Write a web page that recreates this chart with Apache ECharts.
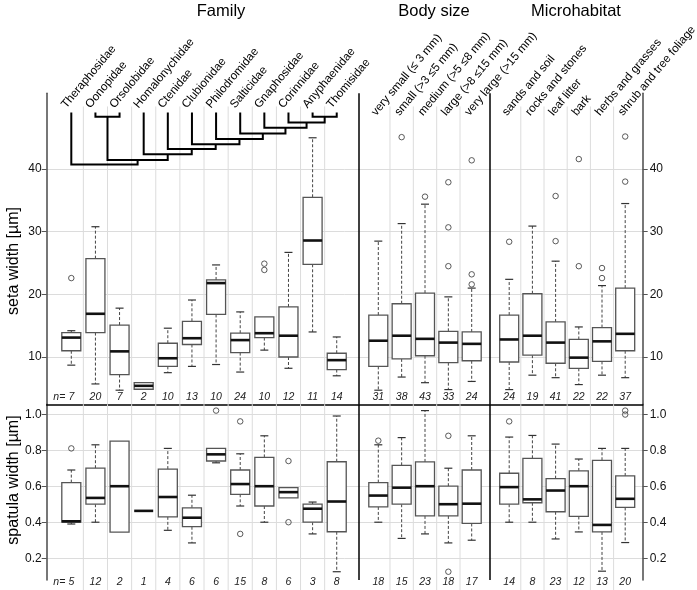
<!DOCTYPE html>
<html><head><meta charset="utf-8">
<script src="https://cdn.jsdelivr.net/npm/echarts@6/dist/echarts.min.js"></script>
<style>html,body{margin:0;padding:0;background:#fff}#c{width:697px;height:590px}</style>
</head><body><div id="c"></div>
<script>
// ---------------- DATA ----------------
const familyNames = ['Theraphosidae','Oonopidae','Orsolobidae','Homalonychidae','Ctenidae','Clubionidae','Philodromidae','Salticidae','Gnaphosidae','Corinnidae','Anyphaenidae','Thomisidae'];
const bodyNames = ['very small (≤ 3 mm)','small (>3 ≤5 mm)','medium (>5 ≤8 mm)','large (>8 ≤15 mm)','very large (>15 mm)'];
const habitatNames = ['sands and soil','rocks and stones','leaf litter','bark','herbs and grasses','shrub and tree foliage'];
const panelTitles = ['Family','Body size','Microhabitat'];

// box stats: [lower whisker, Q1, median, Q3, upper whisker]
const setaFamily = [[8.7,11.0,13.1,13.9,14.2],[5.7,13.9,16.9,25.7,30.8],[4.7,7.2,10.9,15.1,17.8],[4.85,4.85,5.4,5.9,5.9],[7.5,8.5,9.8,12.2,14.6],[8.5,12.0,13.0,15.7,19.1],[8.8,16.8,21.8,22.3,24.7],[7.6,10.7,12.7,13.8,17.2],[11.1,13.1,13.8,16.4,16.4],[8.2,10.0,13.4,18.0,26.7],[14.0,24.8,28.6,35.5,45.0],[7.0,8.0,9.5,10.6,13.2]];
const setaFamilyOut = [[22.6],[],[],[],[],[],[],[],[24.9,23.9],[],[],[]];
const setaFamilyN = [7,20,7,2,10,13,10,24,10,12,11,14];

const setaBody = [[4.7,8.5,12.6,16.7,28.5],[6.8,9.7,13.4,18.5,31.3],[5.9,10.2,12.9,20.2,34.4],[4.8,9.1,12.3,14.1,19.6],[6.1,9.4,12.1,14.0,21.0]];
const setaBodyOut = [[],[45.1],[35.6],[24.5,30.7,37.9],[21.6,23.2,41.4]];
const setaBodyN = [31,38,43,33,24];

const setaHabitat = [[4.8,9.2,12.8,16.7,22.4],[7.1,10.3,13.4,20.1,30.9],[6.7,9.0,12.3,15.6,25.3],[5.6,8.2,9.9,12.8,14.8],[7.1,9.3,12.5,14.7,21.4],[6.7,11.0,13.7,21.0,34.5]];
const setaHabitatOut = [[28.4],[],[28.5,35.7],[24.5,41.6],[22.6,24.2],[38.0,45.2]];
const setaHabitatN = [24,19,41,22,22,37];

const spatulaFamily = [[0.39,0.40,0.405,0.62,0.69],[0.40,0.50,0.535,0.70,0.83],[0.345,0.345,0.60,0.85,0.85],[0.463,0.463,0.463,0.463,0.463],[0.355,0.43,0.54,0.695,0.81],[0.285,0.375,0.425,0.48,0.55],[0.73,0.74,0.777,0.81,0.81],[0.49,0.555,0.612,0.69,0.78],[0.40,0.49,0.60,0.76,0.88],[0.535,0.535,0.567,0.592,0.592],[0.335,0.40,0.475,0.50,0.512],[0.125,0.347,0.515,0.736,0.99]];
const spatulaFamilyOut = [[0.81],[],[],[],[],[],[1.02],[0.96,0.335],[],[0.74,0.40],[],[]];
const spatulaFamilyN = [5,12,2,1,4,6,6,15,8,6,3,8];

const spatulaBody = [[0.40,0.485,0.548,0.62,0.83],[0.31,0.50,0.592,0.716,0.87],[0.335,0.435,0.60,0.735,1.02],[0.285,0.435,0.50,0.60,0.70],[0.30,0.393,0.503,0.69,0.88]];
const spatulaBodyOut = [[0.853],[],[],[0.88,0.125],[]];
const spatulaBodyN = [18,15,23,18,17];

const spatulaHabitat = [[0.40,0.50,0.595,0.672,0.873],[0.40,0.508,0.527,0.755,0.882],[0.307,0.458,0.576,0.642,0.834],[0.346,0.432,0.60,0.685,0.751],[0.128,0.346,0.385,0.744,0.81],[0.287,0.482,0.53,0.657,0.81]];
const spatulaHabitatOut = [[0.96],[],[],[],[],[1.02,0.998]];
const spatulaHabitatN = [14,8,23,12,13,20];

const setaTicks = [10,20,30,40];
const spatulaTicks = [0.2,0.4,0.6,0.8,1.0];

// family dendrogram: [child A, child B, merge height (seta axis units)]; numbers = family index, 'cK' = K-th merge
const dendroLeafTop = 49.05;
const dendroMerges = [[10,11,48.35],[1,2,48.35],[9,'c0',47.45],[8,'c2',46.6],[7,'c3',45.7],[6,'c4',44.8],[5,'c5',43.95],[4,'c6',43.2],[3,'c7',42.35],['c1','c8',41.45],[0,'c9',40.75]];

// ---------------- LAYOUT ----------------
const FONT = "'Liberation Sans', Arial, Helvetica, sans-serif";
const X_MAX = 596;
const groupLayout = [
  {start:24.6, step:24.13, labelDx:-3, labelY:49.35},
  {start:331.6, step:23.35, labelDx:0, labelY:48.15},
  {start:462.5, step:23.2, labelDx:0, labelY:48.15}
];
const separators = [311.6, 442.6];
const titleX = [221, 434, 576];
const BOX_W = 19, CAP_W = 8;
const TOP = {min:2.45, max:52.1, gridTopVal:50, nY:3.62};
const BOT = {min:0.079, max:1.055, nY:0.068};

const groups = [
  {names:familyNames, seta:setaFamily, setaOut:setaFamilyOut, setaN:setaFamilyN, sp:spatulaFamily, spOut:spatulaFamilyOut, spN:spatulaFamilyN},
  {names:bodyNames, seta:setaBody, setaOut:setaBodyOut, setaN:setaBodyN, sp:spatulaBody, spOut:spatulaBodyOut, spN:spatulaBodyN},
  {names:habitatNames, seta:setaHabitat, setaOut:setaHabitatOut, setaN:setaHabitatN, sp:spatulaHabitat, spOut:spatulaHabitatOut, spN:spatulaHabitatN}
];

const xs = [], gridX = [], labelData = [], labelNames = [];
const setaBoxes = [], setaOuts = [], setaNs = [], spBoxes = [], spOuts = [], spNs = [];
groups.forEach((g, gi) => {
  const L = groupLayout[gi];
  g.names.forEach((nm, i) => {
    const x = L.start + L.step * i;
    xs.push(x);
    if (i > 0) gridX.push(x - L.step / 2);
    labelData.push([x + L.labelDx, L.labelY]);
    labelNames.push(nm);
    setaBoxes.push([x].concat(g.seta[i]));
    g.setaOut[i].forEach(v => setaOuts.push([x, v]));
    setaNs.push([x, TOP.nY, g.setaN[i]]);
    spBoxes.push([x].concat(g.sp[i]));
    g.spOut[i].forEach(v => spOuts.push([x, v]));
    spNs.push([x, BOT.nY, g.spN[i]]);
  });
});
const famX = xs.slice(0, familyNames.length);

// dendrogram segments computed from merges
const clusterX = [];
const dendroData = dendroMerges.map((m, k) => {
  const node = r => typeof r === 'number' ? {x: famX[r], top: dendroLeafTop} : {x: clusterX[+r.slice(1)], top: dendroMerges[+r.slice(1)][2]};
  const a = node(m[0]), b = node(m[1]);
  clusterX[k] = (a.x + b.x) / 2;
  return [a.x, a.top, b.x, b.top, m[2]];
});

// ---------------- RENDERERS ----------------
function renderBox(params, api) {
  const x = api.value(0);
  const lo = api.value(1), q1 = api.value(2), md = api.value(3), q3 = api.value(4), hi = api.value(5);
  const half = api.size([BOX_W, 0])[0] / 2;
  const cap = api.size([CAP_W, 0])[0] / 2;
  const P = v => api.coord([x, v]);
  const cx = P(md)[0];
  const ch = [];
  const wStyle = {stroke:'#444', lineWidth:1, lineDash:[3,2]};
  const cStyle = {stroke:'#333', lineWidth:1.2};
  if (lo < q1) {
    ch.push({type:'line', shape:{x1:cx, y1:P(q1)[1], x2:cx, y2:P(lo)[1]}, style:wStyle});
    ch.push({type:'line', shape:{x1:cx-cap, y1:P(lo)[1], x2:cx+cap, y2:P(lo)[1]}, style:cStyle});
  }
  if (hi > q3) {
    ch.push({type:'line', shape:{x1:cx, y1:P(q3)[1], x2:cx, y2:P(hi)[1]}, style:wStyle});
    ch.push({type:'line', shape:{x1:cx-cap, y1:P(hi)[1], x2:cx+cap, y2:P(hi)[1]}, style:cStyle});
  }
  if (q3 > q1) {
    const yT = P(q3)[1], yB = P(q1)[1];
    ch.push({type:'rect', shape:{x:cx-half, y:yT, width:2*half, height:yB-yT}, style:{fill:'#fff', stroke:'#555', lineWidth:1.3}});
  }
  ch.push({type:'line', shape:{x1:cx-half, y1:P(md)[1], x2:cx+half, y2:P(md)[1]}, style:{stroke:'#111', lineWidth:2.6}});
  return {type:'group', children:ch};
}
function renderGridTop(params, api) {
  const x = api.value(0);
  const a = api.coord([x, TOP.gridTopVal]), b = api.coord([x, TOP.min]);
  return {type:'line', shape:{x1:a[0], y1:a[1], x2:b[0], y2:b[1]}, style:{stroke:'#dcdcdc', lineWidth:1}};
}
function renderGridBot(params, api) {
  const x = api.value(0);
  const a = api.coord([x, BOT.max]), b = api.coord([x, BOT.min]);
  return {type:'line', shape:{x1:a[0], y1:a[1], x2:b[0], y2:b[1] + 12}, style:{stroke:'#dcdcdc', lineWidth:1}};
}
function renderN(params, api) {
  const p = api.coord([api.value(0), api.value(1)]);
  const ch = [{type:'text', x:p[0], y:p[1], style:{text:String(api.value(2)), textAlign:'center', textVerticalAlign:'middle', font:'italic 10.5px ' + FONT, fill:'#222'}}];
  if (params.dataIndex === 0) ch.push({type:'text', x:p[0]-6, y:p[1], style:{text:'n=', textAlign:'right', textVerticalAlign:'middle', font:'italic 10.5px ' + FONT, fill:'#222'}});
  return {type:'group', children:ch};
}
function renderLabel(params, api) {
  const p = api.coord([api.value(0), api.value(1)]);
  return {type:'text', x:p[0], y:p[1], rotation:50*Math.PI/180,
    style:{text:labelNames[params.dataIndex], textAlign:'left', textVerticalAlign:'bottom', font:'11.7px ' + FONT, fill:'#000'}};
}
function renderDendro(params, api) {
  const pts = [[api.value(0), api.value(1)], [api.value(0), api.value(4)], [api.value(2), api.value(4)], [api.value(2), api.value(3)]].map(d => api.coord(d));
  return {type:'polyline', shape:{points:pts}, style:{stroke:'#000', lineWidth:2, fill:null}};
}

function yAx(gridIndex, pos, min, max, ticks, fmt) {
  return {
    type:'value', gridIndex, position:pos, min, max,
    axisLine:{show:true, onZero:false, lineStyle:{color:'#555', width:1.6}},
    axisTick:{show:true, customValues:ticks, length:5, lineStyle:{color:'#555', width:1}},
    axisLabel:{show:true, customValues:ticks, formatter:fmt, fontSize:12, color:'#111', margin:pos === 'left' ? 5 : 7, fontFamily:FONT},
    splitLine:{show:pos === 'left', lineStyle:{color:'#dcdcdc', width:1}}
  };
}

const outlierStyle = {color:'rgba(0,0,0,0)', borderColor:'#333', borderWidth:1};

const chart = echarts.init(document.getElementById('c'), null, {renderer:'canvas'});
chart.setOption({
  animation:false,
  backgroundColor:'#fff',
  title: panelTitles.map((t, i) => ({text:t, left:titleX[i], top:3, textAlign:'center', padding:0,
    textStyle:{fontSize:16.5, fontWeight:'normal', color:'#000', fontFamily:FONT}})),
  graphic:[
    {type:'text', x:14, y:261, rotation:Math.PI/2, style:{text:'seta width [µm]', textAlign:'center', textVerticalAlign:'middle', font:'16px ' + FONT, fill:'#000'}},
    {type:'text', x:14, y:480, rotation:Math.PI/2, style:{text:'spatula width [µm]', textAlign:'center', textVerticalAlign:'middle', font:'16px ' + FONT, fill:'#000'}}
  ],
  grid:[
    {left:46.7, right:54.3, top:93.3, height:311},
    {left:46.7, right:54.3, top:404.3, height:175.7}
  ],
  xAxis:[
    {type:'value', gridIndex:0, min:0, max:X_MAX, position:'bottom',
      axisLine:{show:true, onZero:false, lineStyle:{color:'#000', width:1.5}}, axisTick:{show:false}, axisLabel:{show:false}, splitLine:{show:false}},
    {type:'value', gridIndex:1, min:0, max:X_MAX, show:false, splitLine:{show:false}}
  ],
  yAxis:[
    yAx(0, 'left', TOP.min, TOP.max, setaTicks, v => String(v)),
    yAx(0, 'right', TOP.min, TOP.max, setaTicks, v => String(v)),
    yAx(1, 'left', BOT.min, BOT.max, spatulaTicks, v => v.toFixed(1)),
    yAx(1, 'right', BOT.min, BOT.max, spatulaTicks, v => v.toFixed(1))
  ],
  series:[
    {type:'custom', xAxisIndex:0, yAxisIndex:0, data:gridX.map(x => [x, TOP.gridTopVal]), renderItem:renderGridTop, z:1, silent:true,
      markLine:{silent:true, symbol:'none', label:{show:false}, lineStyle:{color:'#000', width:1.5, type:'solid'}, data:separators.map(v => ({xAxis:v}))}},
    {type:'custom', xAxisIndex:1, yAxisIndex:2, data:gridX.map(x => [x, BOT.max]), renderItem:renderGridBot, z:1, silent:true,
      markLine:{silent:true, symbol:'none', label:{show:false}, lineStyle:{color:'#000', width:1.5, type:'solid'}, data:separators.map(v => ({xAxis:v}))}},
    {type:'custom', xAxisIndex:0, yAxisIndex:0, data:dendroData, renderItem:renderDendro, z:3, silent:true, clip:false},
    {type:'custom', xAxisIndex:0, yAxisIndex:0, data:setaBoxes, renderItem:renderBox, z:4, encode:{x:0, y:[1,2,3,4,5]}},
    {type:'scatter', xAxisIndex:0, yAxisIndex:0, data:setaOuts, symbol:'circle', symbolSize:5.5, itemStyle:outlierStyle, z:5},
    {type:'custom', xAxisIndex:0, yAxisIndex:0, data:setaNs, renderItem:renderN, z:5, clip:false},
    {type:'custom', xAxisIndex:0, yAxisIndex:0, data:labelData, renderItem:renderLabel, z:5, clip:false},
    {type:'custom', xAxisIndex:1, yAxisIndex:2, data:spBoxes, renderItem:renderBox, z:4, encode:{x:0, y:[1,2,3,4,5]}},
    {type:'scatter', xAxisIndex:1, yAxisIndex:2, data:spOuts, symbol:'circle', symbolSize:5.5, itemStyle:outlierStyle, z:5},
    {type:'custom', xAxisIndex:1, yAxisIndex:2, data:spNs, renderItem:renderN, z:5, clip:false}
  ]
});
</script></body></html>
